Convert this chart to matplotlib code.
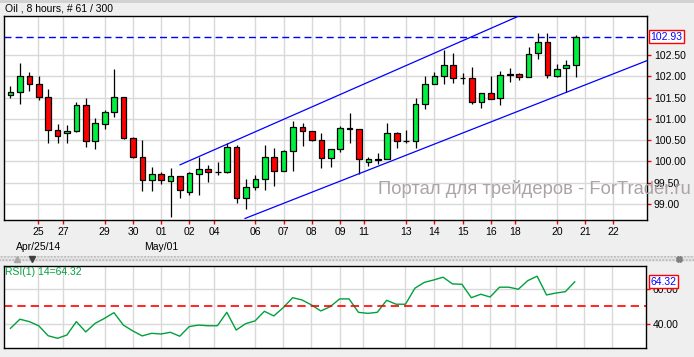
import matplotlib
matplotlib.use('Agg')
import matplotlib.pyplot as plt
import matplotlib.transforms as mtrans
from matplotlib.patches import Rectangle
from matplotlib.lines import Line2D

plt.rcParams['font.family'] = ['Liberation Sans', 'DejaVu Sans']

# Oil, 8 hour bars, oldest first
opens = [101.55, 101.62, 102.00, 101.81, 101.51, 100.74, 100.66, 100.71, 101.32, 100.47,
         100.89, 101.15, 101.51, 100.54, 100.11, 99.56, 99.70, 99.55, 99.66, 99.29,
         99.71, 99.81, 99.74, 99.75, 100.34, 99.13, 99.39, 99.58, 100.10, 99.77,
         100.24, 100.82, 100.71, 100.50, 100.07, 100.28, 100.77, 100.77, 99.99, 100.04,
         100.05, 100.66, 100.47, 100.48, 101.34, 101.81, 102.01, 102.27, 101.95, 101.95,
         101.40, 101.60, 101.48, 102.02, 102.06, 101.99, 102.54, 102.80, 102.00, 102.19,
         102.27]
highs = [101.77, 102.31, 102.10, 102.01, 101.70, 100.88, 100.85, 101.40, 101.48, 101.01,
         101.21, 102.17, 101.51, 100.57, 100.50, 99.87, 99.76, 99.85, 99.66, 99.74,
         100.11, 99.92, 99.98, 100.43, 100.38, 99.58, 99.67, 100.38, 100.32, 100.26,
         100.96, 100.90, 100.71, 100.67, 100.29, 100.83, 101.13, 100.77, 100.10, 100.19,
         100.90, 100.68, 100.74, 101.48, 102.01, 102.11, 102.62, 102.54, 102.07, 102.21,
         101.60, 102.01, 102.12, 102.19, 102.08, 102.68, 103.01, 103.01, 102.30, 102.38,
         102.96]
lows = [101.50, 101.36, 101.66, 101.45, 100.44, 100.44, 100.44, 100.70, 100.35, 100.30,
        100.77, 101.05, 100.52, 100.09, 99.31, 99.31, 99.48, 98.70, 99.13, 99.22,
        99.22, 99.52, 99.67, 99.73, 99.02, 98.88, 99.32, 99.32, 99.43, 99.77,
        99.77, 100.37, 100.48, 99.85, 99.88, 100.23, 100.44, 99.70, 99.90, 99.94,
        100.05, 100.32, 100.43, 100.32, 101.22, 101.81, 101.83, 101.85, 101.83, 101.36,
        101.26, 101.46, 101.33, 101.87, 101.92, 101.99, 102.40, 101.95, 101.99, 101.64,
        101.98]
closes = [101.63, 102.00, 101.81, 101.51, 100.74, 100.59, 100.72, 101.32, 100.47, 100.90,
          101.15, 101.51, 100.54, 100.11, 99.56, 99.70, 99.56, 99.66, 99.32, 99.72,
          99.81, 99.74, 99.745, 100.34, 99.13, 99.39, 99.58, 100.10, 99.77, 100.24,
          100.82, 100.71, 100.50, 100.07, 100.29, 100.78, 100.78, 100.05, 100.05, 100.06,
          100.66, 100.47, 100.48, 101.34, 101.81, 102.01, 102.27, 101.95, 101.955, 101.40,
          101.60, 101.46, 102.02, 102.06, 101.99, 102.52, 102.81, 102.02, 102.17, 102.26,
          102.93]

rsi = [37.3, 42.6, 41.2, 38.8, 33.0, 31.5, 33.4, 41.2, 35.2, 40.2,
       43.1, 46.4, 39.2, 35.8, 32.9, 34.4, 34.0, 35.0, 32.7, 38.3,
       39.2, 38.8, 38.8, 46.6, 36.3, 40.0, 41.6, 47.2, 44.5, 49.3,
       55.1, 53.8, 50.9, 47.4, 49.9, 54.4, 54.4, 46.6, 46.0, 46.6,
       53.6, 51.3, 51.3, 60.6, 64.0, 65.4, 67.0, 63.1, 62.9, 55.1,
       57.1, 55.5, 61.2, 61.2, 60.0, 65.0, 67.6, 56.7, 57.8, 58.6,
       64.32]

day_labels = ['25', '27', '29', '30', '01', '02', '04', '06', '07', '08',
              '09', '11', '13', '14', '15', '16', '18', '20', '21', '22']
day_pos = [2.95, 5.6, 10, 13, 16, 19, 21.6, 26, 29, 32,
           35, 37.5, 42, 45, 48, 51, 53.6, 58, 61, 64]
month_labels = ['Apr/25/14', 'May/01']
month_pos = [2.95, 16]

price_ticks = [99.0, 99.5, 100.0, 100.5, 101.0, 101.5, 102.0, 102.5]
rsi_ticks = [40, 60]
last_price = 102.93
rsi_level = 50

# trend channel end points (bar, price)
upper_x = [18, 67.6]
upper_y = [99.92, 104.74]
lower_x = [24.9, 67.6]
lower_y = [98.66, 102.37]

green = '#00f040'
red = '#ff0000'
grid_col = '#d9d9d9'
fs = 7.5

fig = plt.figure(figsize=(6.94, 3.57), dpi=100, facecolor='#efefef')
ax = fig.add_axes([0.00576, 0.3838, 0.9265, 0.5714])
ax2 = fig.add_axes([0.00576, 0.0244, 0.9250, 0.2314])

n = len(closes)
xs = list(range(n))

# candles
ax.vlines(xs, lows, highs, color='black', lw=0.9, zorder=3)
bottoms = [min(o, c) for o, c in zip(opens, closes)]
heights = [max(abs(c - o), 0.004) for o, c in zip(opens, closes)]
colors = [green if c >= o else red for o, c in zip(opens, closes)]
ax.bar(xs, heights, bottom=bottoms, width=0.6, color=colors,
       edgecolor='black', linewidth=0.9, zorder=4)

ax.plot(upper_x, upper_y, color='#0000ff', lw=0.9, zorder=5)
ax.plot(lower_x, lower_y, color='#0000ff', lw=0.9, zorder=5)
ax.axhline(last_price, color='#0000ff', lw=1, ls=(0, (5, 3)), zorder=2)

ax.set_xlim(-0.69, 67.57)
ax.set_ylim(98.624, 103.416)
ax.set_xticks(day_pos)
ax.set_xticklabels(day_labels)
ax.yaxis.tick_right()
ax.set_yticks(price_ticks)
ax.set_yticklabels(['%.2f' % v for v in price_ticks])
ax.grid(color=grid_col, lw=1)
ax.set_axisbelow(True)
ax.tick_params(axis='both', color='red', length=3, width=1, labelsize=fs,
               labelcolor='black', pad=2)

blend = mtrans.blended_transform_factory(ax.transAxes, ax.transData)
ax.text(1.0055, last_price, '%.2f' % last_price, transform=blend, color='#0000ff',
        fontsize=fs, va='center', ha='left',
        bbox=dict(boxstyle='square,pad=0.15', fc='white', ec='red', lw=1))

blend_x = mtrans.blended_transform_factory(ax.transData, ax.transAxes)
for lab, pos in zip(month_labels, month_pos):
    ax.text(pos, -0.132, lab, transform=blend_x, ha='center', va='center', fontsize=fs)

# RSI panel
ax2.plot(xs, rsi, color='#00a03c', lw=1)
ax2.axhline(rsi_level, color='red', lw=1.2, ls=(0, (5, 3)))
ax2.set_xlim(-0.69, 67.57)
ax2.set_ylim(25.7, 73.7)
ax2.set_xticks(day_pos)
ax2.tick_params(axis='x', length=0, labelbottom=False)
ax2.yaxis.tick_right()
ax2.set_yticks(rsi_ticks)
ax2.set_yticklabels(['%.2f' % v for v in rsi_ticks])
ax2.tick_params(axis='y', color='red', length=3, width=1, labelsize=fs,
                labelcolor='black', pad=2)
ax2.grid(color=grid_col, lw=1)
ax2.set_axisbelow(True)
ax2.text(0.002, 0.925, 'RSI(1) 14=%.2f' % rsi[-1], transform=ax2.transAxes,
         color='#00a03c', fontsize=fs, va='center', ha='left')
blend2 = mtrans.blended_transform_factory(ax2.transAxes, ax2.transData)
ax2.text(1.0065, rsi[-1], '%.2f' % rsi[-1], transform=blend2, color='#0000ff',
         fontsize=fs, va='center', ha='left',
         bbox=dict(boxstyle='square,pad=0.15', fc='white', ec='red', lw=1))

for a in (ax, ax2):
    for s in a.spines.values():
        s.set_color('black')
        s.set_linewidth(1)

# title, watermark, panel separator
fig.text(0.0068, 0.9748, 'Oil , 8 hours, # 61 / 300', fontsize=fs, va='center')
fig.text(0.5447, 0.4706, 'Портал для трейдеров - ForTrader.ru', fontsize=13.2,
         color='#aca4a4', ha='left', va='center')
fig.add_artist(Line2D([0, 1], [0.997, 0.997], color='#d0d0d0', lw=2,
                      transform=fig.transFigure))
fig.add_artist(Rectangle((0, 1 - 261.7 / 357), 1, 5.7 / 357, transform=fig.transFigure,
                         facecolor='#e6e6e6', edgecolor='#b8b8b8', hatch='.....', lw=0))
fig.add_artist(Line2D([17 / 694], [1 - 259 / 357], marker='^', ms=4, color='#a8a8a8',
                      transform=fig.transFigure))
fig.add_artist(Line2D([32 / 694], [1 - 259 / 357], marker='v', ms=4, color='#404040',
                      transform=fig.transFigure))
fig.add_artist(Line2D([679 / 694], [1 - 259 / 357], marker='X', ms=4, color='#808080',
                      transform=fig.transFigure))

fig.savefig('out.png', dpi=100, facecolor=fig.get_facecolor())
